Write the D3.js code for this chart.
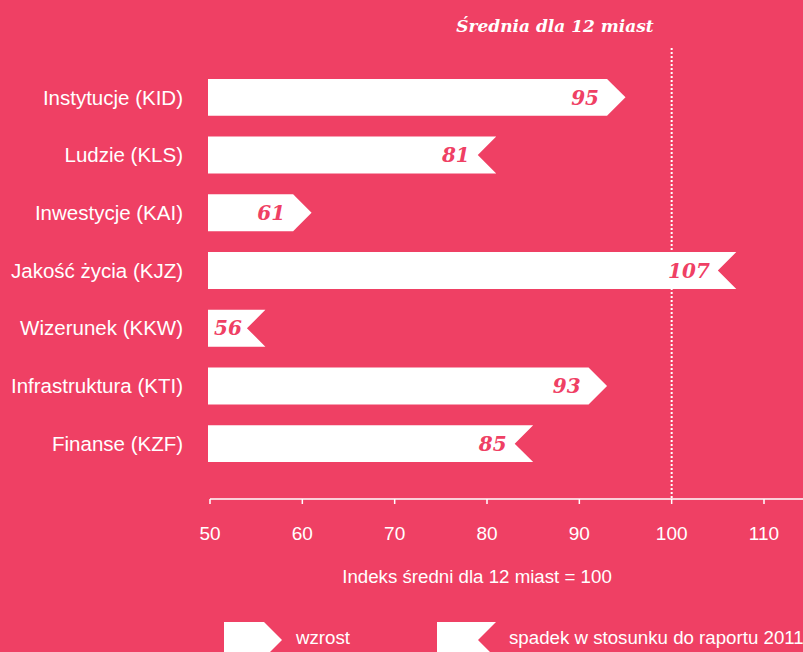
<!DOCTYPE html>
<html>
<head>
<meta charset="utf-8">
<script src="https://cdn.jsdelivr.net/npm/d3@7"></script>
<style>
  body { margin: 0; background: #ef4064; }
  svg { display: block; }
</style>
</head>
<body>
<svg id="chart"></svg>
<script>
var categories = ['Instytucje (KID)', 'Ludzie (KLS)', 'Inwestycje (KAI)', 'Jakość życia (KJZ)',
  'Wizerunek (KKW)', 'Infrastruktura (KTI)', 'Finanse (KZF)'];
var values = [95, 81, 61, 107, 56, 93, 85];
// true = wzrost, false = spadek w stosunku do raportu 2011
var rising = [true, false, true, false, false, true, false];
var ticks = [50, 60, 70, 80, 90, 100, 110];
var average = 100;

var W = 803, H = 652;
var BG = '#ef4064';
var SANS = 'Liberation Sans, Arial, sans-serif';
var SERIF = 'DejaVu Serif, serif';
var svg = d3.select('#chart').attr('width', W).attr('height', H);
svg.append('rect').attr('width', W).attr('height', H).attr('fill', BG);

var x = d3.scaleLinear().domain([50, 110]).range([210, 764]);
var y = d3.scaleBand().domain(categories).range([68.5, 472.5]).paddingInner(0.36).paddingOuter(0.18);

var barLeft = 208;
var bh = y.bandwidth();
var depth = bh / 2;

function barPath(v, up) {
  var end = x(v), y0 = 0, y1 = bh, m = bh / 2;
  if (up) {
    return 'M' + barLeft + ',' + y0 + 'L' + (end - depth) + ',' + y0 + 'L' + end + ',' + m +
      'L' + (end - depth) + ',' + y1 + 'L' + barLeft + ',' + y1 + 'Z';
  }
  return 'M' + barLeft + ',' + y0 + 'L' + end + ',' + y0 + 'L' + (end - depth) + ',' + m +
    'L' + end + ',' + y1 + 'L' + barLeft + ',' + y1 + 'Z';
}

// dotted average line
svg.append('line')
  .attr('x1', x(average)).attr('x2', x(average))
  .attr('y1', 48).attr('y2', 499)
  .attr('stroke', '#fff').attr('stroke-width', 2)
  .attr('stroke-dasharray', '2,2');

svg.append('text')
  .attr('x', 555).attr('y', 32)
  .attr('text-anchor', 'middle')
  .attr('font-family', SERIF)
  .attr('font-style', 'italic').attr('font-weight', 'bold')
  .attr('font-size', 17).attr('fill', '#fff')
  .text('Średnia dla 12 miast');

var rows = svg.append('g').selectAll('g')
  .data(categories.map(function (c, i) { return { name: c, value: values[i], up: rising[i] }; }))
  .enter().append('g')
  .attr('transform', function (d) { return 'translate(0,' + y(d.name) + ')'; });

rows.append('path').attr('fill', '#fff').attr('d', function (d) { return barPath(d.value, d.up); });

rows.append('text')
  .attr('x', 183).attr('y', bh / 2).attr('dy', '0.35em')
  .attr('text-anchor', 'end')
  .attr('font-family', SANS)
  .attr('font-size', 20.5).attr('fill', '#fff')
  .text(function (d) { return d.name; });

rows.append('text')
  .attr('y', bh / 2).attr('dy', '0.36em')
  .attr('font-family', SERIF)
  .attr('font-style', 'italic').attr('font-weight', 'bold')
  .attr('font-size', 20).attr('fill', BG)
  .text(function (d) { return d.value; })
  .each(function (d) {
    var w = this.getComputedTextLength();
    var endX = x(d.value) - depth - 8;
    if (endX - w < barLeft + 6) endX = barLeft + 6 + w;
    d3.select(this).attr('x', endX).attr('text-anchor', 'end');
  });

// axis
var axis = svg.append('g').attr('transform', 'translate(0,499)');
axis.append('line').attr('x1', x(50)).attr('x2', W).attr('stroke', '#fff').attr('stroke-width', 1.5);
axis.selectAll('.tick').data(ticks).enter().append('line')
  .attr('x1', function (d) { return x(d); }).attr('x2', function (d) { return x(d); })
  .attr('y1', 0).attr('y2', 5).attr('stroke', '#fff').attr('stroke-width', 1.5);
axis.selectAll('.lbl').data(ticks).enter().append('text')
  .attr('x', function (d) { return x(d); }).attr('y', 41)
  .attr('text-anchor', 'middle')
  .attr('font-family', SANS)
  .attr('font-size', 19).attr('fill', '#fff')
  .text(function (d) { return d; });

svg.append('text')
  .attr('x', 477).attr('y', 583)
  .attr('text-anchor', 'middle')
  .attr('font-family', SANS)
  .attr('font-size', 18.7).attr('fill', '#fff')
  .text('Indeks średni dla 12 miast = 100');

// legend
var lh = 36, ld = 18, ly = 622;
var legend = [
  { label: 'wzrost', up: true, x0: 224, x1: 282, tx: 296 },
  { label: 'spadek w stosunku do raportu 2011', up: false, x0: 437, x1: 496, tx: 509 }
];
legend.forEach(function (l) {
  var d = l.up
    ? 'M' + l.x0 + ',' + ly + 'L' + (l.x1 - ld) + ',' + ly + 'L' + l.x1 + ',' + (ly + lh / 2) +
      'L' + (l.x1 - ld) + ',' + (ly + lh) + 'L' + l.x0 + ',' + (ly + lh) + 'Z'
    : 'M' + l.x0 + ',' + ly + 'L' + l.x1 + ',' + ly + 'L' + (l.x1 - ld) + ',' + (ly + lh / 2) +
      'L' + l.x1 + ',' + (ly + lh) + 'L' + l.x0 + ',' + (ly + lh) + 'Z';
  svg.append('path').attr('d', d).attr('fill', '#fff');
  svg.append('text')
    .attr('x', l.tx).attr('y', 644)
    .attr('font-family', SANS)
    .attr('font-size', 18.7).attr('fill', '#fff')
    .text(l.label);
});
</script>
</body>
</html>
